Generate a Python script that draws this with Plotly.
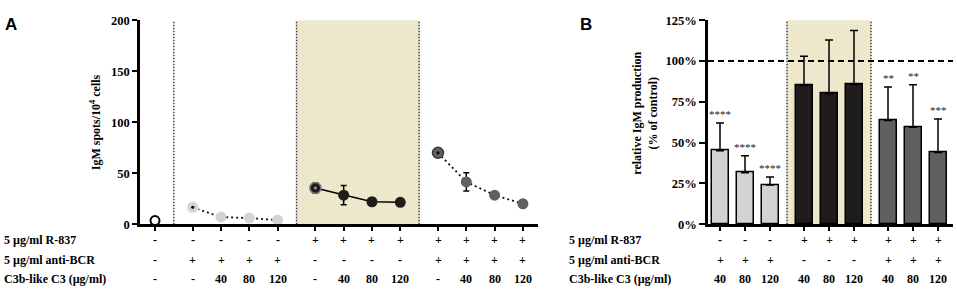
import plotly.graph_objects as go

W, H = 957, 295
SERIF = "Liberation Serif, Times New Roman, Times, DejaVu Serif, serif"
SANS = "Liberation Sans, Arial, sans-serif"

# ---------------- Panel A data ----------------
a_group_sizes = [1, 4, 4, 4]
a_ctrl = [3.5]
a_bcr = [16.5, 7, 6, 4]
a_r837 = [35.5, 28.5, 22, 21.5]
a_r837_err = [5, 9.5, 3.5, 0]
a_both = [70, 41.5, 28.5, 20]
a_both_err = [0, 9, 3, 0]
a_row_r837 = ['-', '-', '-', '-', '-', '+', '+', '+', '+', '+', '+', '+', '+']
a_row_bcr = ['-', '+', '+', '+', '+', '-', '-', '-', '-', '+', '+', '+', '+']
a_row_c3 = ['-', '-', '40', '80', '120', '-', '40', '80', '120', '-', '40', '80', '120']
a_yticks = [0, 50, 100, 150, 200]

# ---------------- Panel B data ----------------
b_group_sizes = [3, 3, 3]
b_bcr = [45, 31.5, 24]
b_bcr_err = [17, 10.5, 5]
b_r837 = [85, 80, 85.7]
b_r837_err = [18, 33, 33]
b_both = [63.6, 59.5, 44]
b_both_err = [20.5, 26, 20.5]
b_stars_bcr = ['****', '****', '****']
b_stars_both = ['**', '**', '***']
b_row_r837 = ['-', '-', '-', '+', '+', '+', '+', '+', '+']
b_row_bcr = ['+', '+', '+', '-', '-', '-', '+', '+', '+']
b_row_c3 = ['40', '80', '120', '40', '80', '120', '40', '80', '120']
b_yticks = [0, 25, 50, 75, 100, 125]
row_labels = ['5 µg/ml R-837', '5 µg/ml anti-BCR', 'C3b-like C3 (µg/ml)']

LIGHT = '#d3d3d3'
BLACK = '#1f1c1d'
DARK = '#606060'
BEIGE = '#ede7cb'


def positions(sizes, gap):
    pos, i = [], 0
    for g, n in enumerate(sizes):
        for _ in range(n):
            pos.append(i + gap * g)
            i += 1
    return pos


def group_slices(sizes):
    out, s = [], 0
    for n in sizes:
        out.append((s, s + n))
        s += n
    return out


pa = positions(a_group_sizes, 1 / 3)
pb = positions(b_group_sizes, 0.36)
sa = group_slices(a_group_sizes)
sb = group_slices(b_group_sizes)


def px(x):
    return x / W


def py(y):
    return (H - y) / H


ydom = [py(228), py(14)]
dotted = '2px,3px'

fig = go.Figure()

# ---- Panel A traces ----
fig.add_trace(go.Scatter(
    x=pa[sa[0][0]:sa[0][1]], y=a_ctrl, mode='markers', xaxis='x', yaxis='y',
    marker=dict(size=9, color='white', line=dict(color='black', width=2)),
    showlegend=False))

fig.add_trace(go.Scatter(
    x=pa[sa[1][0]:sa[1][1]], y=a_bcr, mode='lines+markers', xaxis='x', yaxis='y',
    line=dict(color='#111111', width=1.8, dash=dotted),
    marker=dict(size=11, color=LIGHT,
                line=dict(color=['#e8e8e8', LIGHT, LIGHT, LIGHT], width=[1.5, 0, 0, 0])),
    showlegend=False))

fig.add_trace(go.Scatter(
    x=pa[sa[2][0]:sa[2][1]], y=a_r837, mode='lines+markers', xaxis='x', yaxis='y',
    line=dict(color='black', width=1.6),
    error_y=dict(type='data', array=a_r837_err, color='black', thickness=1.5, width=3),
    marker=dict(size=11, color=BLACK,
                line=dict(color=['#777777', BLACK, BLACK, BLACK], width=[1.5, 0, 0, 0])),
    showlegend=False))

fig.add_trace(go.Scatter(
    x=pa[sa[3][0]:sa[3][1]], y=a_both, mode='lines+markers', xaxis='x', yaxis='y',
    line=dict(color='#111111', width=1.8, dash=dotted),
    error_y=dict(type='data', array=a_both_err, color='black', thickness=1.5, width=3),
    marker=dict(size=11, color=DARK,
                line=dict(color=['#3a3a3a', DARK, DARK, DARK], width=[1.5, 0, 0, 0])),
    showlegend=False))

fig.add_trace(go.Scatter(
    x=[pa[sa[1][0]], pa[sa[2][0]], pa[sa[3][0]]],
    y=[a_bcr[0], a_r837[0], a_both[0]], mode='markers', xaxis='x', yaxis='y',
    marker=dict(size=3, color=['black', '#9a9a9a', 'black']), showlegend=False))

# ---- Panel B traces ----
for (s, e), vals, errs, col in [(sb[0], b_bcr, b_bcr_err, LIGHT),
                                (sb[1], b_r837, b_r837_err, BLACK),
                                (sb[2], b_both, b_both_err, DARK)]:
    fig.add_trace(go.Bar(
        x=pb[s:e], y=vals, width=0.68, xaxis='x2', yaxis='y2',
        marker=dict(color=col, line=dict(color='black', width=1.5)),
        error_y=dict(type='data', symmetric=False, array=errs, arrayminus=[0] * len(errs),
                     color='black', thickness=1.5, width=4),
        showlegend=False))

shapes = []
div_line = dict(color='#333333', width=1.4, dash='1.5px,1.5px')
a_mids = [(pa[sa[i][1] - 1] + pa[sa[i + 1][0]]) / 2 for i in range(len(sa) - 1)]
shapes.append(dict(type='rect', xref='x', yref='paper', x0=a_mids[1], x1=a_mids[2],
                   y0=ydom[0], y1=ydom[1], fillcolor=BEIGE, line=dict(width=0), layer='below'))
for m in a_mids:
    shapes.append(dict(type='line', xref='x', yref='paper', x0=m, x1=m, y0=ydom[0], y1=ydom[1],
                       line=div_line, layer='below'))
b_mids = [(pb[sb[i][1] - 1] + pb[sb[i + 1][0]]) / 2 for i in range(len(sb) - 1)]
shapes.append(dict(type='rect', xref='x2', yref='paper', x0=b_mids[0], x1=b_mids[1],
                   y0=ydom[0], y1=ydom[1], fillcolor=BEIGE, line=dict(width=0), layer='below'))
for m in b_mids:
    shapes.append(dict(type='line', xref='x2', yref='paper', x0=m, x1=m, y0=ydom[0], y1=ydom[1],
                       line=div_line, layer='below'))
shapes.append(dict(type='line', xref='x2 domain', yref='y2', x0=0, x1=1, y0=100, y1=100,
                   line=dict(color='black', width=2, dash='6px,4px')))

ann = []
lab_font = dict(family=SERIF, size=12, color='black', weight='bold')
row_y = [py(245), py(266), py(286)]
for yy, t in zip(row_y, row_labels):
    ann.append(dict(xref='paper', yref='paper', x=px(2), y=yy, text=t, showarrow=False,
                    xanchor='left', yanchor='middle', font=lab_font))
    ann.append(dict(xref='paper', yref='paper', x=px(567), y=yy, text=t, showarrow=False,
                    xanchor='left', yanchor='middle', font=lab_font))
for rows, pos, xr in [((a_row_r837, a_row_bcr, a_row_c3), pa, 'x'),
                      ((b_row_r837, b_row_bcr, b_row_c3), pb, 'x2')]:
    for yy, row in zip(row_y, rows):
        for xv, t in zip(pos, row):
            ann.append(dict(xref=xr, yref='paper', x=xv, y=yy, text=t, showarrow=False,
                            xanchor='center', yanchor='middle', font=lab_font))

for (s, e), vals, errs, stars in [(sb[0], b_bcr, b_bcr_err, b_stars_bcr),
                                  (sb[2], b_both, b_both_err, b_stars_both)]:
    for xv, v, er, st in zip(pb[s:e], vals, errs, stars):
        ann.append(dict(xref='x2', yref='y2', x=xv, y=v + er, text=st, showarrow=False,
                        xanchor='center', yanchor='bottom', yshift=1,
                        font=dict(family=SERIF, size=11, color='#222222')))

ann.append(dict(xref='paper', yref='paper', x=px(95), y=py(121),
                text='IgM spots/10<sup>4</sup> cells', textangle=-90, showarrow=False,
                xanchor='center', yanchor='middle', font=lab_font))
ann.append(dict(xref='paper', yref='paper', x=px(645), y=py(112),
                text='relative IgM production<br>(% of control)', textangle=-90, showarrow=False,
                xanchor='center', yanchor='middle', font=lab_font))
ann.append(dict(xref='paper', yref='paper', x=px(3), y=py(6), text='A', showarrow=False,
                xanchor='left', yanchor='top', font=dict(family=SANS, size=17, color='black', weight='bold')))
ann.append(dict(xref='paper', yref='paper', x=px(578), y=py(6), text='B', showarrow=False,
                xanchor='left', yanchor='top', font=dict(family=SANS, size=17, color='black', weight='bold')))

tick_font = dict(family=SERIF, size=12.5, color='black', weight='bold')
axis_common = dict(showgrid=False, zeroline=False, showline=True, linecolor='black', linewidth=2.5,
                   ticks='outside', tickcolor='black', tickwidth=2)

fig.update_layout(
    width=W, height=H, margin=dict(l=0, r=0, t=0, b=0),
    paper_bgcolor='white', plot_bgcolor='rgba(0,0,0,0)',
    bargap=0, barmode='overlay',
    xaxis=dict(domain=[px(140), px(538)], range=[-15 / 28.3, 383 / 28.3], anchor='y',
               tickvals=pa, showticklabels=False, ticklen=4, **axis_common),
    yaxis=dict(domain=ydom, range=[0, 200], anchor='x', tickvals=a_yticks,
               ticktext=[str(v) for v in a_yticks], tickfont=tick_font, ticklen=5, **axis_common),
    xaxis2=dict(domain=[px(708), px(953)], range=[-12 / 25, 233 / 25], anchor='y2',
                tickvals=pb, showticklabels=False, ticklen=4, **axis_common),
    yaxis2=dict(domain=ydom, range=[0, 125], anchor='x2', tickvals=b_yticks,
                ticktext=[f'{v}%' for v in b_yticks], tickfont=tick_font, ticklen=6, **axis_common),
    shapes=shapes, annotations=ann,
)

# remove the browser's default 8px body margin so the figure sits at the page origin
fig.write_html("out.html", config={'displayModeBar': False},
               post_script="document.body.style.margin='0';document.body.style.overflow='hidden';")
